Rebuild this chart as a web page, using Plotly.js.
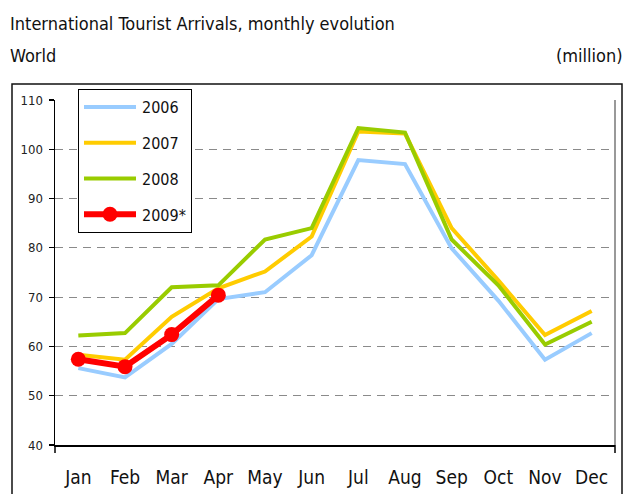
<!DOCTYPE html>
<html>
<head>
<meta charset="utf-8">
<script src="https://cdn.plot.ly/plotly-3.0.1.min.js"></script>
<style>
  html, body { margin: 0; padding: 0; background: #fff; }
  #chart { width: 626px; height: 494px; }
</style>
</head>
<body>
<div id="chart"></div>
<script>
const months = ["Jan","Feb","Mar","Apr","May","Jun","Jul","Aug","Sep","Oct","Nov","Dec"];
const arrivals2006 = [55.6, 53.7, 60.5, 69.6, 71.0, 78.5, 97.8, 97.0, 79.9, 69.3, 57.3, 62.7];
const arrivals2007 = [58.3, 57.3, 66.0, 71.8, 75.2, 82.3, 103.6, 103.2, 84.0, 73.4, 62.3, 67.2];
const arrivals2008 = [62.2, 62.7, 72.0, 72.4, 81.7, 84.0, 104.3, 103.4, 81.7, 72.4, 60.4, 65.0];
const arrivals2009 = [57.4, 55.9, 62.4, 70.4];
const seriesNames = ["2006", "2007", "2008", "2009*"];
const yTicks = [40, 50, 60, 70, 80, 90, 100, 110];

const FONT = '"Liberation Sans Narrow", "Arial Narrow", "DejaVu Sans Condensed", sans-serif';

const W = 626, H = 494;
const M = {l: 55, r: 11, t: 100, b: 49};
const PW = W - M.l - M.r, PH = H - M.t - M.b;
const px = x => (x - M.l) / PW;       // pixel x -> paper
const py = y => (H - M.b - y) / PH;   // pixel y -> paper

const traces = [
  {x: months, y: arrivals2006, name: seriesNames[0], type: 'scatter', mode: 'lines',
   line: {color: '#99ccff', width: 4}, legendgroup: 'a'},
  {x: months, y: arrivals2007, name: seriesNames[1], type: 'scatter', mode: 'lines',
   line: {color: '#ffcc00', width: 4}, legendgroup: 'b'},
  {x: months, y: arrivals2008, name: seriesNames[2], type: 'scatter', mode: 'lines',
   line: {color: '#99cc00', width: 4}, legendgroup: 'c'},
  {x: months.slice(0, arrivals2009.length), y: arrivals2009, name: seriesNames[3], type: 'scatter',
   mode: 'lines+markers', line: {color: '#ff0000', width: 6},
   marker: {color: '#ff0000', size: 15}, legendgroup: 'd'}
];

const layout = {
  width: W, height: H,
  margin: M,
  paper_bgcolor: '#fff', plot_bgcolor: '#fff',
  font: {family: FONT, color: '#111'},
  showlegend: true,
  legend: {
    x: px(78), y: py(89), xanchor: 'left', yanchor: 'top',
    bordercolor: '#000', borderwidth: 1, bgcolor: '#fff',
    font: {family: FONT, size: 16, color: '#111'},
    traceorder: 'grouped', tracegroupgap: 12, itemwidth: 53
  },
  xaxis: {
    type: 'category', categoryorder: 'array', categoryarray: months,
    range: [-0.5, 11.5], showline: true, linecolor: '#000', linewidth: 1.5,
    ticks: '', showgrid: false, zeroline: false,
    tickfont: {family: FONT, size: 19, color: '#111'}, ticklabelstandoff: 15
  },
  yaxis: {
    range: [40, 110], tickvals: yTicks, ticktext: yTicks.map(String),
    showline: true, linecolor: '#000', linewidth: 1.5,
    ticks: 'outside', ticklen: 5, tickcolor: '#000', tickwidth: 1.2,
    showgrid: true, gridcolor: '#8a8a8a', gridwidth: 1, griddash: '8px,6px',
    zeroline: false, ticklabelstandoff: 3,
    tickfont: {family: FONT, size: 13, color: '#222'}
  },
  shapes: [
    {type: 'rect', xref: 'paper', yref: 'paper',
     x0: px(12), x1: px(622), y0: py(530), y1: py(84),
     line: {color: '#111', width: 1.5}, fillcolor: 'rgba(0,0,0,0)', layer: 'below'},
    {type: 'line', xref: 'paper', yref: 'paper', x0: 1, x1: 1, y0: 0, y1: 1,
     line: {color: '#999', width: 2}},
    {type: 'line', xref: 'paper', yref: 'paper', x0: 0, x1: 0, y0: 0, y1: py(453),
     line: {color: '#000', width: 1.5}},
    {type: 'line', xref: 'paper', yref: 'paper', x0: 1, x1: 1, y0: 0, y1: py(453),
     line: {color: '#000', width: 1.5}}
  ],
  annotations: [
    {text: 'International Tourist Arrivals, monthly evolution', xref: 'paper', yref: 'paper',
     x: px(8), y: py(23), xanchor: 'left', yanchor: 'middle', showarrow: false,
     font: {family: FONT, size: 18, color: '#111'}},
    {text: 'World', xref: 'paper', yref: 'paper',
     x: px(8), y: py(55), xanchor: 'left', yanchor: 'middle', showarrow: false,
     font: {family: FONT, size: 18, color: '#111'}},
    {text: '(million)', xref: 'paper', yref: 'paper',
     x: px(625), y: py(56), xanchor: 'right', yanchor: 'middle', showarrow: false,
     font: {family: FONT, size: 18, color: '#111'}}
  ]
};

Plotly.newPlot('chart', traces, layout, {displayModeBar: false, staticPlot: true}).then(gd => {
  // lengthen legend line samples to match the reference key
  gd.querySelectorAll('.legend .traces .js-line').forEach(p => p.setAttribute('d', 'M5,0h52'));
  gd.querySelectorAll('.legend .traces .scatterpts').forEach(g => g.setAttribute('transform', 'translate(31,0)'));
});
</script>
</body>
</html>
